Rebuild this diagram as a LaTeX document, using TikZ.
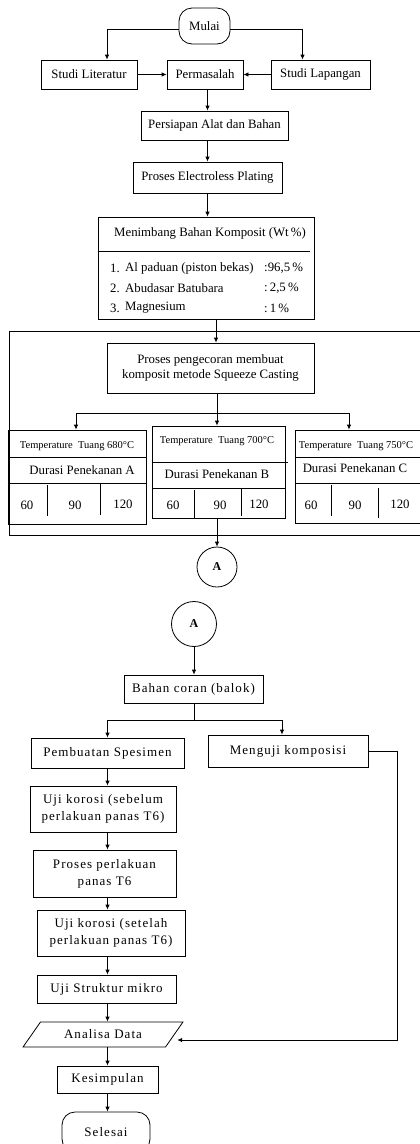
\documentclass[tikz,border=0pt]{standalone}
\usepackage{fontspec}
\setmainfont{Liberation Serif}
\newfontfamily\lowerfont[LetterSpace=8]{Liberation Serif}
\usetikzlibrary{positioning, arrows.meta, shapes.geometric, calc}

\begin{document}
\begin{tikzpicture}[x=1pt, y=-1pt,
    procBox/.style={draw, line width=0.8pt, inner sep=1pt, align=center,
                    font=\fontsize{12.8}{15}\selectfont},
    lowBox/.style={procBox, font=\lowerfont\fontsize{13}{17}\selectfont},
    termBox/.style={lowBox, rounded corners=13pt},
    tempText/.style={font=\fontsize{10.5}{12}\selectfont, inner sep=0pt},
    cellText/.style={font=\fontsize{12.8}{15}\selectfont, inner sep=0pt},
    hubCircle/.style={circle, draw, line width=0.8pt, inner sep=0pt,
                      font=\bfseries\fontsize{12}{14}\selectfont},
    flowLine/.style={line width=0.8pt},
    flowArrow/.style={flowLine, -{Latex[length=5pt,width=4.5pt]}}]
  \clip (0,0) rectangle (420,1144);

  % awal penelitian
  \node[procBox, rounded corners=13pt, minimum width=51, minimum height=36] (mulai) at (204.5,26) {Mulai};
  \node[procBox, minimum width=96, minimum height=29] (literatur) at (89,74.5) {Studi Literatur};
  \node[procBox, minimum width=76, minimum height=29] (masalah) at (205,74.5) {Permasalah};
  \node[procBox, minimum width=99, minimum height=29] (lapangan) at (320.5,74.5) {Studi Lapangan};
  \node[procBox, minimum width=147, minimum height=29] (persiapan) at (214.5,125.5) {Persiapan Alat dan Bahan};
  \node[procBox, minimum width=149, minimum height=31] (plating) at (207.5,177.5) {Proses Electroless Plating};

  \draw[flowArrow] ([yshift=-3]mulai.west) -| ([xshift=18]literatur.north);
  \draw[flowArrow] ([yshift=-3]mulai.east) -| ([xshift=-18]lapangan.north);
  \draw[flowArrow] (literatur) -- (masalah);
  \draw[flowArrow] (lapangan) -- (masalah);
  \draw[flowArrow] (plating.north |- masalah.south) -- (plating.north |- persiapan.north);
  \draw[flowArrow] (plating.north |- persiapan.south) -- (plating.north);

  % komposisi bahan
  \node[procBox, minimum width=216, minimum height=102] (timbang) at (206,268) {};
  \node[cellText] (timbangJudul) at (210,233) {Menimbang Bahan Komposit (Wt\,\%)};
  \draw[flowLine] (timbang.west |- 0,251) -- (310,251);
  \foreach \no/\bahan/\kadar [count=\i] in {1/{Al paduan (piston bekas)}/{:96,5\,\%},
      2/{Abudasar Batubara}/{:\,2,5\,\%}, 3/{Magnesium}/{:\,1\,\%}} {
    \node[cellText, anchor=west] (bahanNo\i) at (110,248+20*\i) {\no.};
    \node[cellText, anchor=west] (bahan\i) at (125,248+20*\i) {\bahan};
    \node[cellText, anchor=west] (kadar\i) at (264,248+20*\i) {\kadar};
  }
  \draw[flowArrow] (plating.south) -- (plating.south |- timbang.north);

  % pengecoran
  \draw[flowLine] (9,331) rectangle (440,535);
  \node[procBox, minimum width=207, minimum height=50] (cor) at (210.5,368)
       {Proses pengecoran membuat\\komposit metode Squeeze Casting};
  \draw[flowArrow] ([xshift=10]timbang.south) -- ([xshift=10]timbang.south |- cor.north);

  \node[procBox, minimum width=138, minimum height=94] (durA) at (77,477) {};
  \node[procBox, minimum width=133, minimum height=92] (durB) at (218.5,472) {};
  \node[procBox, minimum width=145, minimum height=93] (durC) at (367.5,476.5) {};
  \draw[flowLine] (durA.west |- 0,457) -- (durA.east |- 0,457)
                  (durA.west |- 0,483) -- (durA.east |- 0,483)
                  (47,485) -- (47,516) (100,484) -- (100,515);
  \draw[flowLine] (durB.west |- 0,462) -- (288,462)
                  (durB.west |- 0,488) -- (durB.east |- 0,488)
                  (194,490) -- (194,518) (241,488) -- (241,516);
  \draw[flowLine] (durC.west |- 0,457) -- (durC.east |- 0,457)
                  (durC.west |- 0,483) -- (durC.east |- 0,483)
                  (331,485) -- (331,516) (378,488) -- (378,518);

  \node[tempText] (tempA) at (77,446) {Temperature \ Tuang 680°C};
  \node[cellText] (durasiA) at (82,470) {Durasi Penekanan A};
  \node[tempText] (tempB) at (217,441) {Temperature \ Tuang 700°C};
  \node[cellText] (durasiB) at (217,474) {Durasi Penekanan B};
  \node[tempText] (tempC) at (356,446) {Temperature \ Tuang 750°C};
  \node[cellText] (durasiC) at (355,468) {Durasi Penekanan C};
  \foreach \kotak/\xa/\xb/\xc in {A/27/75/123, B/173/220/259, C/311/355/400} {
    \node[cellText] (waktu\kotak1) at (\xa,505) {60};
    \node[cellText] (waktu\kotak2) at (\xb,505) {90};
    \node[cellText] (waktu\kotak3) at (\xc,504) {120};
  }

  \coordinate (corSplit) at (217,413);
  \draw[flowArrow] (cor.south -| corSplit) -- (corSplit |- durB.north);
  \draw[flowArrow] (corSplit) -| ([xshift=-1]durA.north);
  \draw[flowArrow] (corSplit) -| ([xshift=-18.5]durC.north);

  \node[hubCircle, minimum size=40] (hubA) at (217,567) {A};
  \draw[flowArrow] (hubA.north |- durB.south) -- (hubA.north);

  % pengujian
  \node[hubCircle, minimum size=45] (hubB) at (194,624) {A};
  \node[lowBox, minimum width=139, minimum height=28] (balok) at (193.5,689) {Bahan coran (balok)};
  \node[lowBox, minimum width=153, minimum height=30] (spesimen) at (107.5,753) {Pembuatan Spesimen};
  \node[lowBox, minimum width=160, minimum height=32] (komposisi) at (288,751) {Menguji komposisi};
  \node[lowBox, minimum width=146, minimum height=46] (korosiA) at (103,809) {Uji korosi (sebelum\\perlakuan panas T6)};
  \node[lowBox, minimum width=143, minimum height=47] (perlakuan) at (104.5,873.5) {Proses perlakuan\\panas T6};
  \node[lowBox, minimum width=148, minimum height=46] (korosiB) at (111,933) {Uji korosi (setelah\\perlakuan panas T6)};
  \node[lowBox, minimum width=139, minimum height=28] (struktur) at (106.5,989) {Uji Struktur mikro};
  \node[lowBox, trapezium, trapezium left angle=45, trapezium right angle=135,
        trapezium stretches=true, minimum width=160, minimum height=25] (analisa) at (103,1034.5) {Analisa Data};
  \node[lowBox, minimum width=101, minimum height=27] (kesimpulan) at (107.5,1079.5) {Kesimpulan};
  \node[termBox, minimum width=88, minimum height=40] (selesai) at (106,1132) {Selesai};

  \draw[flowArrow] (hubB.south) -- (hubB.south |- balok.north);
  \coordinate (balokSplit) at (194,720);
  \draw[flowArrow] (balok.south -| balokSplit) -- (balokSplit) -| (spesimen.north);
  \draw[flowArrow] (balokSplit) -| ([xshift=-6]komposisi.north);
  \foreach \from/\to in {spesimen/korosiA, korosiA/perlakuan, perlakuan/korosiB,
      korosiB/struktur, struktur/analisa, analisa/kesimpulan, kesimpulan/selesai}
    \draw[flowArrow] (spesimen.north |- \from.south) -- (spesimen.north |- \to.north);
  \draw[flowArrow] (komposisi.east) -- ++(29,0) |- ([xshift=2.5,yshift=-5.5]analisa.east);
\end{tikzpicture}
\end{document}
